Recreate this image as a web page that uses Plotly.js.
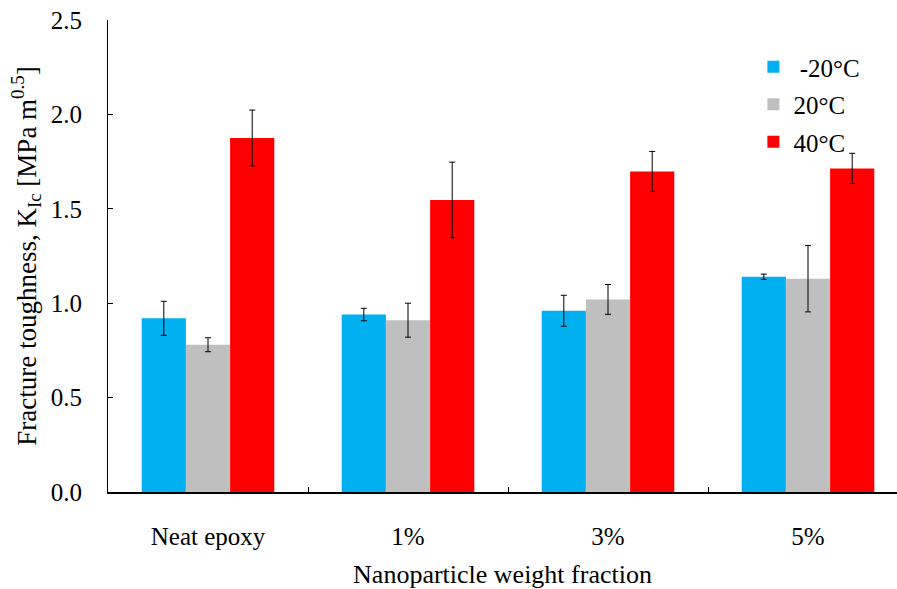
<!DOCTYPE html>
<html>
<head>
<meta charset="utf-8">
<script src="https://cdn.plot.ly/plotly-3.0.1.min.js"></script>
<style>html,body{margin:0;padding:0;background:#fff}#chart{width:897px;height:589px}</style>
</head>
<body>
<div id="chart"></div>
<script>
const categories = ["Neat epoxy", "1%", "3%", "5%"];
const seriesNames = [" -20°C", "20°C", "40°C"];
const valsM20 = [0.92, 0.94, 0.96, 1.14];
const errM20  = [0.09, 0.033, 0.082, 0.014];
const vals20  = [0.78, 0.91, 1.02, 1.13];
const err20   = [0.037, 0.09, 0.079, 0.176];
const vals40  = [1.875, 1.547, 1.698, 1.714];
const err40   = [0.148, 0.20, 0.106, 0.08];
const yTicks = [0, 0.5, 1.0, 1.5, 2.0, 2.5];
const yTickText = ["0.0", "0.5", "1.0", "1.5", "2.0", "2.5"];

const colors = ["#00B0F0", "#BFBFBF", "#FF0000"];
const values = [valsM20, vals20, vals40];
const errors = [errM20, err20, err40];
const font = "Liberation Serif";

const data = values.map((v, i) => ({
  type: "bar",
  name: seriesNames[i],
  x: categories,
  y: v,
  legendgroup: "g" + i,
  marker: {color: colors[i], line: {width: 0}},
  error_y: {type: "data", array: errors[i], visible: true, color: "#000", thickness: 1, width: 3}
}));

const layout = {
  width: 897, height: 589,
  margin: {l: 108, r: 0, t: 20, b: 97},
  paper_bgcolor: "#fff", plot_bgcolor: "#fff",
  font: {family: font, size: 22, color: "#000"},
  barmode: "group",
  bargap: 0.337,
  bargroupgap: 0,
  showlegend: true,
  legend: {
    x: 0.818, y: 0.949, xanchor: "left", yanchor: "top",
    traceorder: "grouped", tracegroupgap: 2,
    font: {family: font, size: 25, color: "#000"},
    bgcolor: "rgba(0,0,0,0)"
  },
  xaxis: {
    type: "category",
    range: [-0.5, 3.445],
    showline: true, linecolor: "#000", linewidth: 1.5,
    ticks: "inside", tickson: "boundaries", ticklen: 5, tickcolor: "#000",
    showgrid: false, zeroline: false,
    tickfont: {family: font, size: 25},
    ticklabelstandoff: 21,
    title: {text: "Nanoparticle weight fraction", font: {family: font, size: 26}, standoff: 17}
  },
  yaxis: {
    range: [0, 2.5],
    tickvals: yTicks, ticktext: yTickText,
    showline: true, linecolor: "#000", linewidth: 1,
    ticks: "inside", ticklen: 5, tickcolor: "#000",
    showgrid: false, zeroline: false,
    tickfont: {family: font, size: 25},
    ticklabelstandoff: 20,
    title: {text: "Fracture toughness, K<sub>Ic</sub> [MPa m<sup>0.5</sup>]", font: {family: font, size: 27}, standoff: 6}
  }
};

Plotly.newPlot("chart", data, layout, {displayModeBar: false, staticPlot: true});
</script>
</body>
</html>
